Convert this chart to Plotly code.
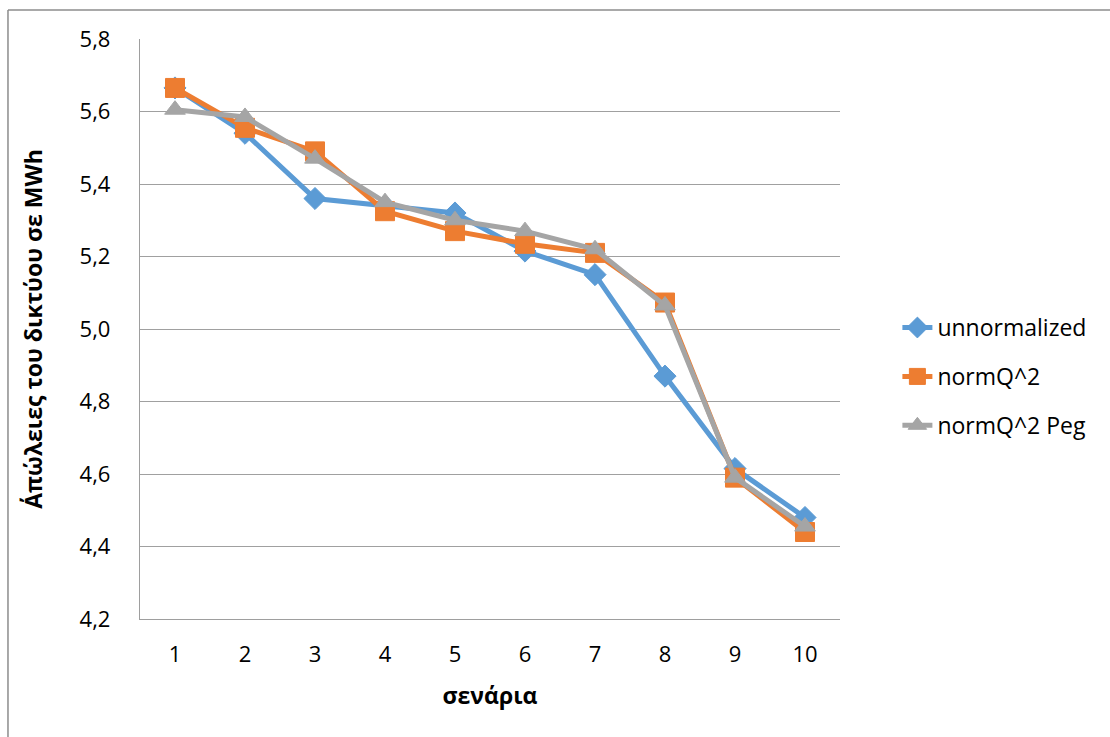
import plotly.graph_objects as go

scenarios = [1, 2, 3, 4, 5, 6, 7, 8, 9, 10]
unnormalized = [5.665, 5.54, 5.36, 5.34, 5.32, 5.215, 5.15, 4.87, 4.615, 4.48]
normq2 = [5.665, 5.555, 5.49, 5.325, 5.27, 5.235, 5.21, 5.073, 4.59, 4.44]
normq2_peg = [5.605, 5.585, 5.47, 5.35, 5.30, 5.27, 5.22, 5.065, 4.59, 4.455]
y_ticks = [4.2, 4.4, 4.6, 4.8, 5.0, 5.2, 5.4, 5.6, 5.8]

FONT = "Open Sans"

fig = go.Figure()
series = [
    ("unnormalized", unnormalized, "#5B9BD5", "diamond", 17),
    ("normQ^2", normq2, "#ED7D31", "square", 19),
    ("normQ^2 Peg", normq2_peg, "#A5A5A5", "triangle-up", 18),
]
for name, vals, color, sym, size in series:
    fig.add_trace(go.Scatter(
        x=scenarios, y=vals, name=name, mode="lines+markers",
        legendgroup=name,
        line=dict(color=color, width=5),
        marker=dict(symbol=sym, size=size, color=color, line=dict(color=color, width=1)),
    ))

fig.update_layout(
    width=1110, height=737,
    margin=dict(l=140, r=270, t=39, b=118),
    paper_bgcolor="white", plot_bgcolor="white",
    separators=",.",
    font=dict(family=FONT, size=22, color="#000000"),
    showlegend=True,
    legend=dict(
        x=1.082, y=0.418, xanchor="left", yanchor="middle",
        font=dict(family=FONT, size=23, color="#000000"),
        tracegroupgap=16, bgcolor="rgba(0,0,0,0)",
    ),
    xaxis=dict(
        range=[0.5, 10.5], tickmode="array", tickvals=scenarios,
        ticktext=[str(s) for s in scenarios],
        showgrid=False, zeroline=False,
        showline=True, linecolor="#9E9E9E", linewidth=1.3,
        ticks="", ticklabelstandoff=15,
        tickfont=dict(family=FONT, size=22, color="#000000"),
        title=dict(text="<b>σενάρια</b>", font=dict(family=FONT, size=23, color="#000000"), standoff=21),
    ),
    yaxis=dict(
        range=[4.2, 5.8], tickmode="array", tickvals=y_ticks,
        tickformat=".1f",
        showgrid=True, gridcolor="#A0A0A0", gridwidth=1.3,
        zeroline=False, showline=True, linecolor="#9E9E9E", linewidth=1.3,
        ticks="", ticklabelstandoff=24,
        tickfont=dict(family=FONT, size=22, color="#000000"),
        title=dict(text="<b>Α΄πώλειες του δικτύου σε MWh</b>", font=dict(family=FONT, size=23, color="#000000"), standoff=30),
    ),
    shapes=[
        dict(type="line", xref="paper", yref="paper", x0=-0.1886, x1=1.4, y0=1.0499, y1=1.0499,
             line=dict(color="#8C8C8C", width=1.5)),
        dict(type="line", xref="paper", yref="paper", x0=-0.1886, x1=-0.1886, y0=1.0499, y1=-0.25,
             line=dict(color="#8C8C8C", width=1.5)),
    ],
)

fig.write_html("out.html")
